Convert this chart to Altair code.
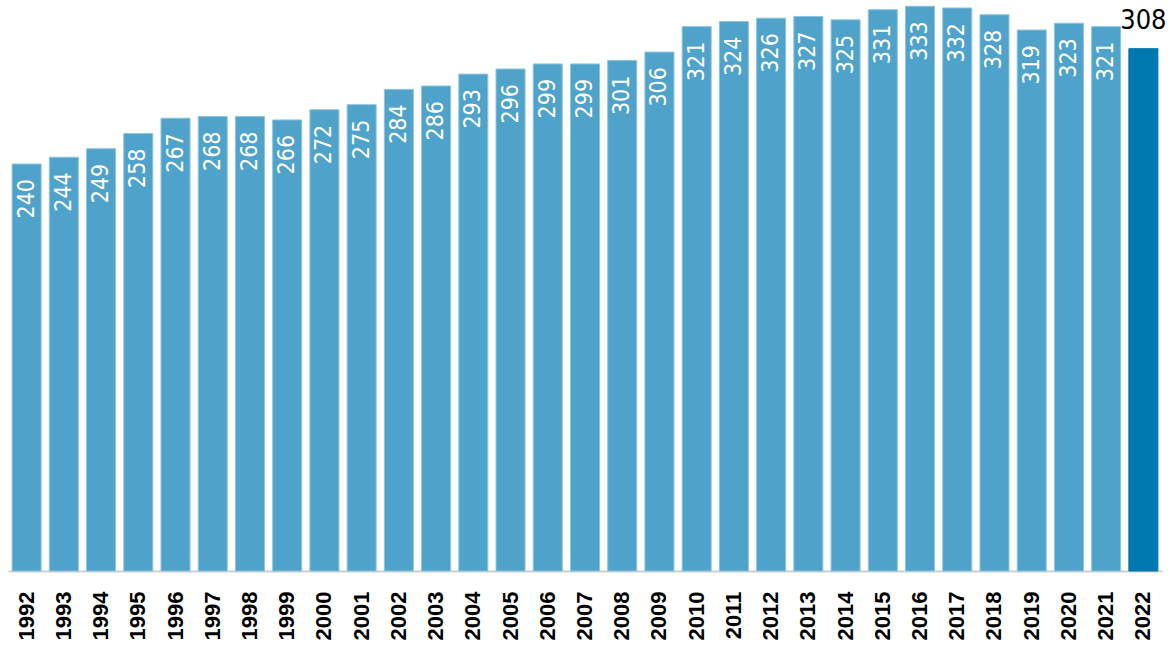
import altair as alt
import pandas as pd

years = [str(y) for y in range(1992, 2023)]
values = [240, 244, 249, 258, 267, 268, 268, 266, 272, 275, 284, 286, 293, 296, 299,
          299, 301, 306, 321, 324, 326, 327, 325, 331, 333, 332, 328, 319, 323, 321, 308]
highlight = ["no"] * 30 + ["yes"]

df = pd.DataFrame({"year": years, "value": values, "hl": highlight})

FONT = "DejaVu Sans Condensed, sans-serif"
AXFONT = "Liberation Sans, Arial, sans-serif"

x = alt.X("year:O", title=None, sort=years,
          scale=alt.Scale(paddingInner=0.22, paddingOuter=0.11),
          axis=alt.Axis(labelAngle=-90, labelFont=AXFONT, labelFontSize=22,
                        labelFontWeight="bold", labelColor="black", ticks=False,
                        domainColor="#cfcfcf", domainWidth=2, labelPadding=20,
                        labelAlign="right", labelBaseline="middle"))
y = alt.Y("value:Q", title=None, scale=alt.Scale(domain=[0, 336.7], nice=False, zero=True),
          axis=None)

base = alt.Chart(df)

bars = base.mark_bar(strokeWidth=1).encode(
    x=x, y=y,
    color=alt.Color("hl:N", scale=alt.Scale(domain=["no", "yes"], range=["#4FA3CB", "#0077AE"]), legend=None),
    stroke=alt.Stroke("hl:N", scale=alt.Scale(domain=["no", "yes"], range=["#8DC5DF", "#0077AE"]), legend=None),
)

inner = base.transform_filter(alt.datum.hl == "no").mark_text(
    angle=270, align="right", baseline="middle", dx=-15, color="white",
    font=FONT, fontSize=23
).encode(x=x, y=y, text="value:Q")

top = base.transform_filter(alt.datum.hl == "yes").mark_text(
    align="center", baseline="bottom", dy=-14, color="black",
    font=FONT, fontSize=27
).encode(x=x, y=y, text="value:Q")

chart = (bars + inner + top).properties(
    width=1154, height=571,
    autosize=alt.AutoSizeParams(type="none"),
    padding={"left": 8, "top": 0, "right": 9, "bottom": 79},
).configure_view(stroke=None)

chart.save("out.html", embed_options={"renderer": "svg", "actions": False})
